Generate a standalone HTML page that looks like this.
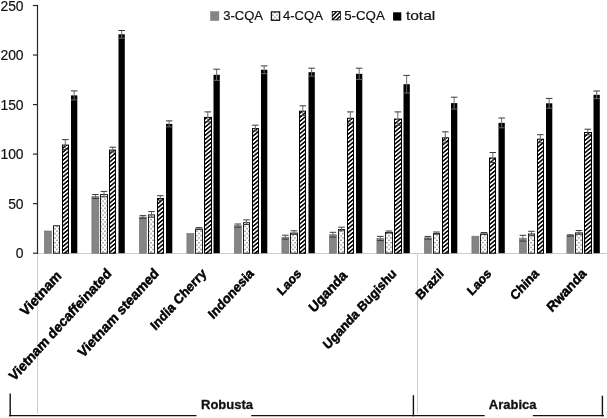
<!DOCTYPE html><html><head><meta charset="utf-8"><style>html,body{margin:0;padding:0;background:#fff;}svg{display:block;will-change:transform;}text{font-family:"Liberation Sans",sans-serif;}</style></head><body>
<svg width="607" height="418" viewBox="0 0 607 418">
<defs>
<pattern id="dots" patternUnits="userSpaceOnUse" width="4" height="4.6"><rect width="4" height="4.6" fill="#fff"/><circle cx="1" cy="1.1" r="0.65" fill="#444"/><circle cx="3" cy="3.4" r="0.65" fill="#444"/></pattern>
<pattern id="diag" patternUnits="userSpaceOnUse" width="12" height="3.14" patternTransform="rotate(-40)"><rect width="12" height="3.14" fill="#000"/><rect y="0.75" width="12" height="1.6" fill="#fff"/></pattern>
</defs>
<rect width="607" height="418" fill="#fff"/>
<line x1="37" y1="253.5" x2="607" y2="253.5" stroke="#cdcdcd" stroke-width="1"/>
<line x1="37.5" y1="253" x2="37.5" y2="413.5" stroke="#cfcfcf" stroke-width="1"/>
<line x1="417.5" y1="253" x2="417.5" y2="413.5" stroke="#cfcfcf" stroke-width="1"/>
<rect x="44.4" y="231" width="7" height="22.2" fill="#858585" stroke="#6e6e6e" stroke-width="0.6"/>
<rect x="53.5" y="225.8" width="6" height="27.4" fill="url(#dots)" stroke="#1a1a1a" stroke-width="1"/>
<rect x="62.5" y="145.1" width="6" height="108.1" fill="url(#diag)" stroke="#000" stroke-width="1"/>
<rect x="71" y="95.4" width="6.3" height="157.8" fill="#000"/>
<line x1="65.3" y1="139.6" x2="65.3" y2="149.6" stroke="#6a6a6a" stroke-width="1"/>
<line x1="62" y1="139.6" x2="68.6" y2="139.6" stroke="#3a3a3a" stroke-width="1"/>
<line x1="62" y1="149.6" x2="68.6" y2="149.6" stroke="#3a3a3a" stroke-width="1"/>
<line x1="74.15" y1="90.9" x2="74.15" y2="99.9" stroke="#6a6a6a" stroke-width="1"/>
<line x1="70.85" y1="90.9" x2="77.45" y2="90.9" stroke="#3a3a3a" stroke-width="1"/>
<line x1="70.85" y1="99.9" x2="77.45" y2="99.9" stroke="#6a6a6a" stroke-width="1"/>
<rect x="91.9" y="196.5" width="7" height="56.7" fill="#858585" stroke="#6e6e6e" stroke-width="0.6"/>
<rect x="100.5" y="194.6" width="7" height="58.6" fill="url(#dots)" stroke="#1a1a1a" stroke-width="1"/>
<rect x="109.5" y="150.1" width="6" height="103.1" fill="url(#diag)" stroke="#000" stroke-width="1"/>
<rect x="118.5" y="34.3" width="6.3" height="218.9" fill="#000"/>
<line x1="95.4" y1="194.5" x2="95.4" y2="198.5" stroke="#6a6a6a" stroke-width="1"/>
<line x1="92.1" y1="194.5" x2="98.7" y2="194.5" stroke="#3a3a3a" stroke-width="1"/>
<line x1="92.1" y1="198.5" x2="98.7" y2="198.5" stroke="#3a3a3a" stroke-width="1"/>
<line x1="104" y1="191.4" x2="104" y2="196.8" stroke="#6a6a6a" stroke-width="1"/>
<line x1="100.7" y1="191.4" x2="107.3" y2="191.4" stroke="#3a3a3a" stroke-width="1"/>
<line x1="100.7" y1="196.8" x2="107.3" y2="196.8" stroke="#3a3a3a" stroke-width="1"/>
<line x1="112.8" y1="147.2" x2="112.8" y2="152" stroke="#6a6a6a" stroke-width="1"/>
<line x1="109.5" y1="147.2" x2="116.1" y2="147.2" stroke="#3a3a3a" stroke-width="1"/>
<line x1="109.5" y1="152" x2="116.1" y2="152" stroke="#3a3a3a" stroke-width="1"/>
<line x1="121.65" y1="30.5" x2="121.65" y2="38.1" stroke="#6a6a6a" stroke-width="1"/>
<line x1="118.35" y1="30.5" x2="124.95" y2="30.5" stroke="#3a3a3a" stroke-width="1"/>
<line x1="118.35" y1="38.1" x2="124.95" y2="38.1" stroke="#6a6a6a" stroke-width="1"/>
<rect x="139.4" y="217" width="7" height="36.2" fill="#858585" stroke="#6e6e6e" stroke-width="0.6"/>
<rect x="148.5" y="214.9" width="6" height="38.3" fill="url(#dots)" stroke="#1a1a1a" stroke-width="1"/>
<rect x="157.5" y="198.5" width="6" height="54.7" fill="url(#diag)" stroke="#000" stroke-width="1"/>
<rect x="166" y="123.9" width="6.3" height="129.3" fill="#000"/>
<line x1="142.9" y1="215.6" x2="142.9" y2="218.4" stroke="#6a6a6a" stroke-width="1"/>
<line x1="139.6" y1="215.6" x2="146.2" y2="215.6" stroke="#3a3a3a" stroke-width="1"/>
<line x1="139.6" y1="218.4" x2="146.2" y2="218.4" stroke="#3a3a3a" stroke-width="1"/>
<line x1="151.5" y1="211.6" x2="151.5" y2="217.2" stroke="#6a6a6a" stroke-width="1"/>
<line x1="148.2" y1="211.6" x2="154.8" y2="211.6" stroke="#3a3a3a" stroke-width="1"/>
<line x1="148.2" y1="217.2" x2="154.8" y2="217.2" stroke="#3a3a3a" stroke-width="1"/>
<line x1="160.3" y1="195.7" x2="160.3" y2="200.3" stroke="#6a6a6a" stroke-width="1"/>
<line x1="157" y1="195.7" x2="163.6" y2="195.7" stroke="#3a3a3a" stroke-width="1"/>
<line x1="157" y1="200.3" x2="163.6" y2="200.3" stroke="#3a3a3a" stroke-width="1"/>
<line x1="169.15" y1="120.9" x2="169.15" y2="126.9" stroke="#6a6a6a" stroke-width="1"/>
<line x1="165.85" y1="120.9" x2="172.45" y2="120.9" stroke="#3a3a3a" stroke-width="1"/>
<line x1="165.85" y1="126.9" x2="172.45" y2="126.9" stroke="#6a6a6a" stroke-width="1"/>
<rect x="186.9" y="233.5" width="7" height="19.7" fill="#858585" stroke="#6e6e6e" stroke-width="0.6"/>
<rect x="195.5" y="229.1" width="7" height="24.1" fill="url(#dots)" stroke="#1a1a1a" stroke-width="1"/>
<rect x="204.5" y="117.4" width="7" height="135.8" fill="url(#diag)" stroke="#000" stroke-width="1"/>
<rect x="213.5" y="74.8" width="6.3" height="178.4" fill="#000"/>
<line x1="199" y1="227.6" x2="199" y2="229.6" stroke="#6a6a6a" stroke-width="1"/>
<line x1="195.7" y1="227.6" x2="202.3" y2="227.6" stroke="#3a3a3a" stroke-width="1"/>
<line x1="195.7" y1="229.6" x2="202.3" y2="229.6" stroke="#3a3a3a" stroke-width="1"/>
<line x1="207.8" y1="111.9" x2="207.8" y2="121.9" stroke="#6a6a6a" stroke-width="1"/>
<line x1="204.5" y1="111.9" x2="211.1" y2="111.9" stroke="#3a3a3a" stroke-width="1"/>
<line x1="204.5" y1="121.9" x2="211.1" y2="121.9" stroke="#3a3a3a" stroke-width="1"/>
<line x1="216.65" y1="69.2" x2="216.65" y2="80.4" stroke="#6a6a6a" stroke-width="1"/>
<line x1="213.35" y1="69.2" x2="219.95" y2="69.2" stroke="#3a3a3a" stroke-width="1"/>
<line x1="213.35" y1="80.4" x2="219.95" y2="80.4" stroke="#6a6a6a" stroke-width="1"/>
<rect x="234.4" y="225.6" width="7" height="27.6" fill="#858585" stroke="#6e6e6e" stroke-width="0.6"/>
<rect x="243.5" y="222.7" width="6" height="30.5" fill="url(#dots)" stroke="#1a1a1a" stroke-width="1"/>
<rect x="252.5" y="128.6" width="6" height="124.6" fill="url(#diag)" stroke="#000" stroke-width="1"/>
<rect x="261" y="69.8" width="6.3" height="183.4" fill="#000"/>
<line x1="237.9" y1="224" x2="237.9" y2="227.2" stroke="#6a6a6a" stroke-width="1"/>
<line x1="234.6" y1="224" x2="241.2" y2="224" stroke="#3a3a3a" stroke-width="1"/>
<line x1="234.6" y1="227.2" x2="241.2" y2="227.2" stroke="#3a3a3a" stroke-width="1"/>
<line x1="246.5" y1="219.9" x2="246.5" y2="224.5" stroke="#6a6a6a" stroke-width="1"/>
<line x1="243.2" y1="219.9" x2="249.8" y2="219.9" stroke="#3a3a3a" stroke-width="1"/>
<line x1="243.2" y1="224.5" x2="249.8" y2="224.5" stroke="#3a3a3a" stroke-width="1"/>
<line x1="255.3" y1="125.2" x2="255.3" y2="131" stroke="#6a6a6a" stroke-width="1"/>
<line x1="252" y1="125.2" x2="258.6" y2="125.2" stroke="#3a3a3a" stroke-width="1"/>
<line x1="252" y1="131" x2="258.6" y2="131" stroke="#3a3a3a" stroke-width="1"/>
<line x1="264.15" y1="65.9" x2="264.15" y2="73.7" stroke="#6a6a6a" stroke-width="1"/>
<line x1="260.85" y1="65.9" x2="267.45" y2="65.9" stroke="#3a3a3a" stroke-width="1"/>
<line x1="260.85" y1="73.7" x2="267.45" y2="73.7" stroke="#6a6a6a" stroke-width="1"/>
<rect x="281.9" y="237.2" width="7" height="16" fill="#858585" stroke="#6e6e6e" stroke-width="0.6"/>
<rect x="290.5" y="233.1" width="7" height="20.1" fill="url(#dots)" stroke="#1a1a1a" stroke-width="1"/>
<rect x="299.5" y="111.2" width="6" height="142" fill="url(#diag)" stroke="#000" stroke-width="1"/>
<rect x="308.5" y="72.2" width="6.3" height="181" fill="#000"/>
<line x1="285.4" y1="235.2" x2="285.4" y2="239.2" stroke="#6a6a6a" stroke-width="1"/>
<line x1="282.1" y1="235.2" x2="288.7" y2="235.2" stroke="#3a3a3a" stroke-width="1"/>
<line x1="282.1" y1="239.2" x2="288.7" y2="239.2" stroke="#3a3a3a" stroke-width="1"/>
<line x1="294" y1="230.8" x2="294" y2="234.4" stroke="#6a6a6a" stroke-width="1"/>
<line x1="290.7" y1="230.8" x2="297.3" y2="230.8" stroke="#3a3a3a" stroke-width="1"/>
<line x1="290.7" y1="234.4" x2="297.3" y2="234.4" stroke="#3a3a3a" stroke-width="1"/>
<line x1="302.8" y1="105.8" x2="302.8" y2="115.6" stroke="#6a6a6a" stroke-width="1"/>
<line x1="299.5" y1="105.8" x2="306.1" y2="105.8" stroke="#3a3a3a" stroke-width="1"/>
<line x1="299.5" y1="115.6" x2="306.1" y2="115.6" stroke="#3a3a3a" stroke-width="1"/>
<line x1="311.65" y1="68.2" x2="311.65" y2="76.2" stroke="#6a6a6a" stroke-width="1"/>
<line x1="308.35" y1="68.2" x2="314.95" y2="68.2" stroke="#3a3a3a" stroke-width="1"/>
<line x1="308.35" y1="76.2" x2="314.95" y2="76.2" stroke="#6a6a6a" stroke-width="1"/>
<rect x="329.4" y="234.7" width="7" height="18.5" fill="#858585" stroke="#6e6e6e" stroke-width="0.6"/>
<rect x="338.5" y="229.5" width="6" height="23.7" fill="url(#dots)" stroke="#1a1a1a" stroke-width="1"/>
<rect x="347.5" y="118.3" width="6" height="134.9" fill="url(#diag)" stroke="#000" stroke-width="1"/>
<rect x="356" y="73.8" width="6.3" height="179.4" fill="#000"/>
<line x1="332.9" y1="232.3" x2="332.9" y2="237.1" stroke="#6a6a6a" stroke-width="1"/>
<line x1="329.6" y1="232.3" x2="336.2" y2="232.3" stroke="#3a3a3a" stroke-width="1"/>
<line x1="329.6" y1="237.1" x2="336.2" y2="237.1" stroke="#3a3a3a" stroke-width="1"/>
<line x1="341.5" y1="227.2" x2="341.5" y2="230.8" stroke="#6a6a6a" stroke-width="1"/>
<line x1="338.2" y1="227.2" x2="344.8" y2="227.2" stroke="#3a3a3a" stroke-width="1"/>
<line x1="338.2" y1="230.8" x2="344.8" y2="230.8" stroke="#3a3a3a" stroke-width="1"/>
<line x1="350.3" y1="111.9" x2="350.3" y2="123.7" stroke="#6a6a6a" stroke-width="1"/>
<line x1="347" y1="111.9" x2="353.6" y2="111.9" stroke="#3a3a3a" stroke-width="1"/>
<line x1="347" y1="123.7" x2="353.6" y2="123.7" stroke="#3a3a3a" stroke-width="1"/>
<line x1="359.15" y1="68.2" x2="359.15" y2="79.4" stroke="#6a6a6a" stroke-width="1"/>
<line x1="355.85" y1="68.2" x2="362.45" y2="68.2" stroke="#3a3a3a" stroke-width="1"/>
<line x1="355.85" y1="79.4" x2="362.45" y2="79.4" stroke="#6a6a6a" stroke-width="1"/>
<rect x="376.9" y="238.5" width="7" height="14.7" fill="#858585" stroke="#6e6e6e" stroke-width="0.6"/>
<rect x="385.5" y="232.5" width="7" height="20.7" fill="url(#dots)" stroke="#1a1a1a" stroke-width="1"/>
<rect x="394.5" y="119.1" width="7" height="134.1" fill="url(#diag)" stroke="#000" stroke-width="1"/>
<rect x="403.5" y="84.2" width="6.3" height="169" fill="#000"/>
<line x1="380.4" y1="236.4" x2="380.4" y2="240.6" stroke="#6a6a6a" stroke-width="1"/>
<line x1="377.1" y1="236.4" x2="383.7" y2="236.4" stroke="#3a3a3a" stroke-width="1"/>
<line x1="377.1" y1="240.6" x2="383.7" y2="240.6" stroke="#3a3a3a" stroke-width="1"/>
<line x1="389" y1="231" x2="389" y2="233" stroke="#6a6a6a" stroke-width="1"/>
<line x1="385.7" y1="231" x2="392.3" y2="231" stroke="#3a3a3a" stroke-width="1"/>
<line x1="385.7" y1="233" x2="392.3" y2="233" stroke="#3a3a3a" stroke-width="1"/>
<line x1="397.8" y1="111.9" x2="397.8" y2="125.3" stroke="#6a6a6a" stroke-width="1"/>
<line x1="394.5" y1="111.9" x2="401.1" y2="111.9" stroke="#3a3a3a" stroke-width="1"/>
<line x1="394.5" y1="125.3" x2="401.1" y2="125.3" stroke="#3a3a3a" stroke-width="1"/>
<line x1="406.65" y1="75.4" x2="406.65" y2="93" stroke="#6a6a6a" stroke-width="1"/>
<line x1="403.35" y1="75.4" x2="409.95" y2="75.4" stroke="#3a3a3a" stroke-width="1"/>
<line x1="403.35" y1="93" x2="409.95" y2="93" stroke="#6a6a6a" stroke-width="1"/>
<rect x="424.4" y="237.8" width="7" height="15.4" fill="#858585" stroke="#6e6e6e" stroke-width="0.6"/>
<rect x="433.5" y="233.6" width="6" height="19.6" fill="url(#dots)" stroke="#1a1a1a" stroke-width="1"/>
<rect x="442.5" y="137.8" width="6" height="115.4" fill="url(#diag)" stroke="#000" stroke-width="1"/>
<rect x="451" y="103.1" width="6.3" height="150.1" fill="#000"/>
<line x1="427.9" y1="236.4" x2="427.9" y2="239.2" stroke="#6a6a6a" stroke-width="1"/>
<line x1="424.6" y1="236.4" x2="431.2" y2="236.4" stroke="#3a3a3a" stroke-width="1"/>
<line x1="424.6" y1="239.2" x2="431.2" y2="239.2" stroke="#3a3a3a" stroke-width="1"/>
<line x1="436.5" y1="232" x2="436.5" y2="234.2" stroke="#6a6a6a" stroke-width="1"/>
<line x1="433.2" y1="232" x2="439.8" y2="232" stroke="#3a3a3a" stroke-width="1"/>
<line x1="433.2" y1="234.2" x2="439.8" y2="234.2" stroke="#3a3a3a" stroke-width="1"/>
<line x1="445.3" y1="131.8" x2="445.3" y2="142.8" stroke="#6a6a6a" stroke-width="1"/>
<line x1="442" y1="131.8" x2="448.6" y2="131.8" stroke="#3a3a3a" stroke-width="1"/>
<line x1="442" y1="142.8" x2="448.6" y2="142.8" stroke="#3a3a3a" stroke-width="1"/>
<line x1="454.15" y1="97.2" x2="454.15" y2="109" stroke="#6a6a6a" stroke-width="1"/>
<line x1="450.85" y1="97.2" x2="457.45" y2="97.2" stroke="#3a3a3a" stroke-width="1"/>
<line x1="450.85" y1="109" x2="457.45" y2="109" stroke="#6a6a6a" stroke-width="1"/>
<rect x="471.9" y="236.2" width="7" height="17" fill="#858585" stroke="#6e6e6e" stroke-width="0.6"/>
<rect x="480.5" y="234" width="7" height="19.2" fill="url(#dots)" stroke="#1a1a1a" stroke-width="1"/>
<rect x="489.5" y="158" width="6" height="95.2" fill="url(#diag)" stroke="#000" stroke-width="1"/>
<rect x="498.5" y="122.9" width="6.3" height="130.3" fill="#000"/>
<line x1="484" y1="232.5" x2="484" y2="234.5" stroke="#6a6a6a" stroke-width="1"/>
<line x1="480.7" y1="232.5" x2="487.3" y2="232.5" stroke="#3a3a3a" stroke-width="1"/>
<line x1="480.7" y1="234.5" x2="487.3" y2="234.5" stroke="#3a3a3a" stroke-width="1"/>
<line x1="492.8" y1="152.5" x2="492.8" y2="162.5" stroke="#6a6a6a" stroke-width="1"/>
<line x1="489.5" y1="152.5" x2="496.1" y2="152.5" stroke="#3a3a3a" stroke-width="1"/>
<line x1="489.5" y1="162.5" x2="496.1" y2="162.5" stroke="#3a3a3a" stroke-width="1"/>
<line x1="501.65" y1="118" x2="501.65" y2="127.8" stroke="#6a6a6a" stroke-width="1"/>
<line x1="498.35" y1="118" x2="504.95" y2="118" stroke="#3a3a3a" stroke-width="1"/>
<line x1="498.35" y1="127.8" x2="504.95" y2="127.8" stroke="#6a6a6a" stroke-width="1"/>
<rect x="519.4" y="238.2" width="7" height="15" fill="#858585" stroke="#6e6e6e" stroke-width="0.6"/>
<rect x="528.5" y="234" width="6" height="19.2" fill="url(#dots)" stroke="#1a1a1a" stroke-width="1"/>
<rect x="537.5" y="139.2" width="6" height="114" fill="url(#diag)" stroke="#000" stroke-width="1"/>
<rect x="546" y="103.3" width="6.3" height="149.9" fill="#000"/>
<line x1="522.9" y1="235.3" x2="522.9" y2="241.1" stroke="#6a6a6a" stroke-width="1"/>
<line x1="519.6" y1="235.3" x2="526.2" y2="235.3" stroke="#3a3a3a" stroke-width="1"/>
<line x1="519.6" y1="241.1" x2="526.2" y2="241.1" stroke="#3a3a3a" stroke-width="1"/>
<line x1="531.5" y1="231.3" x2="531.5" y2="235.7" stroke="#6a6a6a" stroke-width="1"/>
<line x1="528.2" y1="231.3" x2="534.8" y2="231.3" stroke="#3a3a3a" stroke-width="1"/>
<line x1="528.2" y1="235.7" x2="534.8" y2="235.7" stroke="#3a3a3a" stroke-width="1"/>
<line x1="540.3" y1="134.7" x2="540.3" y2="142.7" stroke="#6a6a6a" stroke-width="1"/>
<line x1="537" y1="134.7" x2="543.6" y2="134.7" stroke="#3a3a3a" stroke-width="1"/>
<line x1="537" y1="142.7" x2="543.6" y2="142.7" stroke="#3a3a3a" stroke-width="1"/>
<line x1="549.15" y1="98.4" x2="549.15" y2="108.2" stroke="#6a6a6a" stroke-width="1"/>
<line x1="545.85" y1="98.4" x2="552.45" y2="98.4" stroke="#3a3a3a" stroke-width="1"/>
<line x1="545.85" y1="108.2" x2="552.45" y2="108.2" stroke="#6a6a6a" stroke-width="1"/>
<rect x="566.9" y="235.5" width="7" height="17.7" fill="#858585" stroke="#6e6e6e" stroke-width="0.6"/>
<rect x="575.5" y="232.9" width="7" height="20.3" fill="url(#dots)" stroke="#1a1a1a" stroke-width="1"/>
<rect x="584.5" y="132.5" width="7" height="120.7" fill="url(#diag)" stroke="#000" stroke-width="1"/>
<rect x="593.5" y="94.8" width="6.3" height="158.4" fill="#000"/>
<line x1="570.4" y1="234.8" x2="570.4" y2="236.2" stroke="#6a6a6a" stroke-width="1"/>
<line x1="567.1" y1="234.8" x2="573.7" y2="234.8" stroke="#3a3a3a" stroke-width="1"/>
<line x1="567.1" y1="236.2" x2="573.7" y2="236.2" stroke="#3a3a3a" stroke-width="1"/>
<line x1="579" y1="230.5" x2="579" y2="234.3" stroke="#6a6a6a" stroke-width="1"/>
<line x1="575.7" y1="230.5" x2="582.3" y2="230.5" stroke="#3a3a3a" stroke-width="1"/>
<line x1="575.7" y1="234.3" x2="582.3" y2="234.3" stroke="#3a3a3a" stroke-width="1"/>
<line x1="587.8" y1="129.2" x2="587.8" y2="134.8" stroke="#6a6a6a" stroke-width="1"/>
<line x1="584.5" y1="129.2" x2="591.1" y2="129.2" stroke="#3a3a3a" stroke-width="1"/>
<line x1="584.5" y1="134.8" x2="591.1" y2="134.8" stroke="#3a3a3a" stroke-width="1"/>
<line x1="596.65" y1="91" x2="596.65" y2="98.6" stroke="#6a6a6a" stroke-width="1"/>
<line x1="593.35" y1="91" x2="599.95" y2="91" stroke="#3a3a3a" stroke-width="1"/>
<line x1="593.35" y1="98.6" x2="599.95" y2="98.6" stroke="#6a6a6a" stroke-width="1"/>
<line x1="37.5" y1="5" x2="37.5" y2="254" stroke="#262626" stroke-width="1.2"/>
<line x1="33" y1="253.2" x2="37.5" y2="253.2" stroke="#262626" stroke-width="1.2"/>
<text x="23.6" y="258.4" font-size="13.9" text-anchor="end" fill="#111" stroke="#111" stroke-width="0.2">0</text>
<line x1="33" y1="203.66" x2="37.5" y2="203.66" stroke="#262626" stroke-width="1.2"/>
<text x="23.6" y="208.86" font-size="13.9" text-anchor="end" fill="#111" stroke="#111" stroke-width="0.2">50</text>
<line x1="33" y1="154.12" x2="37.5" y2="154.12" stroke="#262626" stroke-width="1.2"/>
<text x="23.6" y="159.32" font-size="13.9" text-anchor="end" fill="#111" stroke="#111" stroke-width="0.2">100</text>
<line x1="33" y1="104.58" x2="37.5" y2="104.58" stroke="#262626" stroke-width="1.2"/>
<text x="23.6" y="109.78" font-size="13.9" text-anchor="end" fill="#111" stroke="#111" stroke-width="0.2">150</text>
<line x1="33" y1="55.04" x2="37.5" y2="55.04" stroke="#262626" stroke-width="1.2"/>
<text x="23.6" y="60.24" font-size="13.9" text-anchor="end" fill="#111" stroke="#111" stroke-width="0.2">200</text>
<line x1="33" y1="5.5" x2="37.5" y2="5.5" stroke="#262626" stroke-width="1.2"/>
<text x="23.6" y="10.7" font-size="13.9" text-anchor="end" fill="#111" stroke="#111" stroke-width="0.2">250</text>
<rect x="210.5" y="11.7" width="8.4" height="8.8" fill="#858585" stroke="#777" stroke-width="0.5"/>
<rect x="271.4" y="11.9" width="8.2" height="8.4" fill="url(#dots)" stroke="#1a1a1a" stroke-width="1.3"/>
<rect x="331.8" y="11.1" width="9" height="9.2" fill="#000"/>
<clipPath id="sw5"><rect x="332.6" y="11.9" width="7.4" height="7.6"/></clipPath>
<g clip-path="url(#sw5)" stroke="#fff" stroke-width="1.45">
<line x1="330" y1="16.1" x2="343" y2="3.1"/>
<line x1="330" y1="20.2" x2="343" y2="7.2"/>
<line x1="330" y1="24.3" x2="343" y2="11.3"/>
<line x1="330" y1="28.4" x2="343" y2="15.4"/>
</g>
<rect x="393.1" y="12.3" width="8.2" height="8.3" fill="#000"/>
<text x="223.2" y="20.3" font-size="13.1" fill="#111" stroke="#111" stroke-width="0.2" textLength="39.8" lengthAdjust="spacingAndGlyphs">3-CQA</text>
<text x="283" y="20.3" font-size="13.1" fill="#111" stroke="#111" stroke-width="0.2" textLength="39.9" lengthAdjust="spacingAndGlyphs">4-CQA</text>
<text x="344.2" y="20.3" font-size="13.1" fill="#111" stroke="#111" stroke-width="0.2" textLength="40.6" lengthAdjust="spacingAndGlyphs">5-CQA</text>
<text x="405.9" y="20.3" font-size="13.1" fill="#111" stroke="#111" stroke-width="0.2" textLength="29.4" lengthAdjust="spacingAndGlyphs">total</text>
<text x="0" y="0" font-size="14.73" font-weight="bold" text-anchor="end" fill="#000" stroke="#000" stroke-width="0.5" transform="translate(62.3,276.8) scale(0.91,1) rotate(-45)">Vietnam</text>
<text x="0" y="0" font-size="14.36" font-weight="bold" text-anchor="end" fill="#000" stroke="#000" stroke-width="0.5" transform="translate(112.05,274.3) scale(0.91,1) rotate(-45)">Vietnam decaffeinated</text>
<text x="0" y="0" font-size="14.48" font-weight="bold" text-anchor="end" fill="#000" stroke="#000" stroke-width="0.5" transform="translate(159.55,274.3) scale(0.91,1) rotate(-45)">Vietnam steamed</text>
<text x="0" y="0" font-size="13.74" font-weight="bold" text-anchor="end" fill="#000" stroke="#000" stroke-width="0.5" transform="translate(207.05,274.3) scale(0.91,1) rotate(-45)">India Cherry</text>
<text x="0" y="0" font-size="13.76" font-weight="bold" text-anchor="end" fill="#000" stroke="#000" stroke-width="0.5" transform="translate(254.55,274.3) scale(0.91,1) rotate(-45)">Indonesia</text>
<text x="0" y="0" font-size="13.3" font-weight="bold" text-anchor="end" fill="#000" stroke="#000" stroke-width="0.5" transform="translate(302.05,274.3) scale(0.91,1) rotate(-45)">Laos</text>
<text x="0" y="0" font-size="14.3" font-weight="bold" text-anchor="end" fill="#000" stroke="#000" stroke-width="0.5" transform="translate(347.75,276.3) scale(0.91,1) rotate(-45)">Uganda</text>
<text x="0" y="0" font-size="13.5" font-weight="bold" text-anchor="end" fill="#000" stroke="#000" stroke-width="0.5" transform="translate(397.05,274.3) scale(0.91,1) rotate(-45)">Uganda Bugishu</text>
<text x="0" y="0" font-size="13.6" font-weight="bold" text-anchor="end" fill="#000" stroke="#000" stroke-width="0.5" transform="translate(444.55,274.3) scale(0.91,1) rotate(-45)">Brazil</text>
<text x="0" y="0" font-size="13.3" font-weight="bold" text-anchor="end" fill="#000" stroke="#000" stroke-width="0.5" transform="translate(492.05,274.3) scale(0.91,1) rotate(-45)">Laos</text>
<text x="0" y="0" font-size="13.6" font-weight="bold" text-anchor="end" fill="#000" stroke="#000" stroke-width="0.5" transform="translate(539.55,274.3) scale(0.91,1) rotate(-45)">China</text>
<text x="0" y="0" font-size="14.2" font-weight="bold" text-anchor="end" fill="#000" stroke="#000" stroke-width="0.5" transform="translate(587.05,274.3) scale(0.91,1) rotate(-45)">Rwanda</text>
<g stroke="#111" stroke-width="1.4" fill="none">
<line x1="9" y1="415.6" x2="196.5" y2="415.6"/>
<line x1="251.2" y1="415.6" x2="484.7" y2="415.6"/>
<line x1="532.8" y1="415.6" x2="604" y2="415.6"/>
<line x1="10.2" y1="393.6" x2="10.2" y2="416.3"/>
<line x1="413.4" y1="395.2" x2="413.4" y2="416.3"/>
<line x1="602.4" y1="395.7" x2="602.4" y2="416.3"/>
</g>
<text x="201" y="408.8" font-size="13" font-weight="bold" fill="#111" stroke="#111" stroke-width="0.3">Robusta</text>
<text x="488.8" y="408.8" font-size="13" font-weight="bold" fill="#111" stroke="#111" stroke-width="0.3">Arabica</text>
</svg></body></html>
